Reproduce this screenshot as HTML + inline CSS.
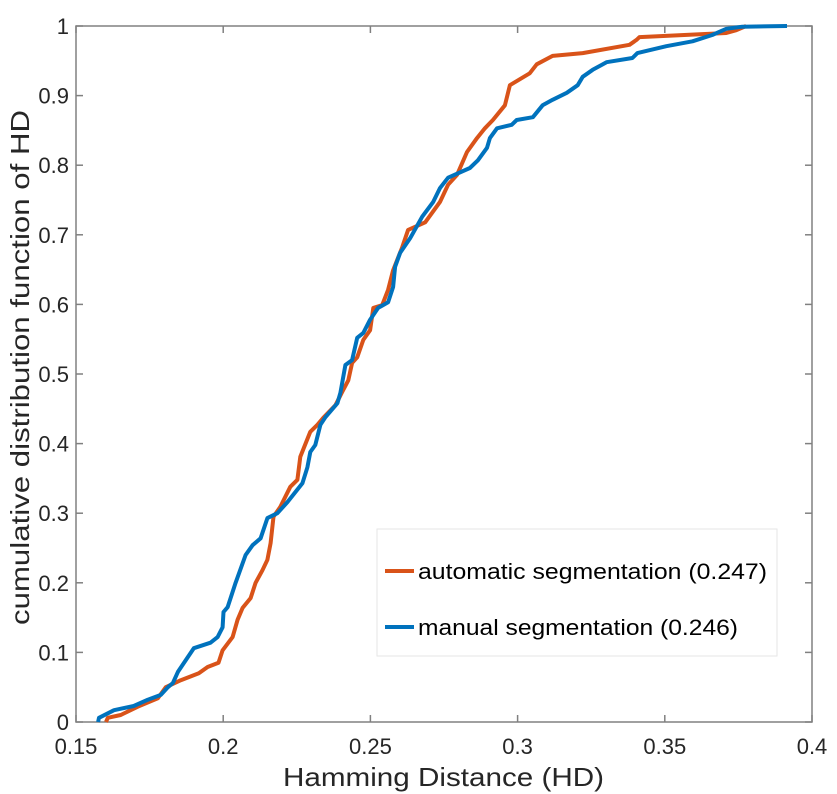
<!DOCTYPE html>
<html><head><meta charset="utf-8"><style>
body{margin:0;background:#fff;}
svg{display:block;font-family:"Liberation Sans",Arial,sans-serif;}
</style></head><body>
<svg id="chart" width="837" height="794" viewBox="0 0 837 794">
<rect x="0" y="0" width="837" height="794" fill="#fff"/>
<g id="axes"></g>
<g id="series"></g>
<text x="283" y="786" font-size="26" fill="#262626" textLength="321" lengthAdjust="spacingAndGlyphs">Hamming Distance (HD)</text>
<text transform="translate(29,625) rotate(-90)" font-size="26" fill="#262626" textLength="515" lengthAdjust="spacingAndGlyphs">cumulative distribution function of HD</text>
<g>
<rect x="377" y="529" width="400" height="127" fill="#fff" stroke="#e6e6e6" stroke-width="1"/>
<line x1="385" y1="571" x2="414" y2="571" stroke="#D95319" stroke-width="4"/>
<text x="418" y="579" font-size="22" fill="#000" textLength="349" lengthAdjust="spacingAndGlyphs">automatic segmentation (0.247)</text>
<line x1="385" y1="627" x2="414" y2="627" stroke="#0072BD" stroke-width="4"/>
<text x="418" y="635" font-size="22" fill="#000" textLength="320" lengthAdjust="spacingAndGlyphs">manual segmentation (0.246)</text>
</g>
</svg>
<script>
const xTicks = [0.15, 0.2, 0.25, 0.3, 0.35, 0.4];
const xTickLabels = ["0.15", "0.2", "0.25", "0.3", "0.35", "0.4"];
const yTicks = [0, 0.1, 0.2, 0.3, 0.4, 0.5, 0.6, 0.7, 0.8, 0.9, 1];
const yTickLabels = ["0", "0.1", "0.2", "0.3", "0.4", "0.5", "0.6", "0.7", "0.8", "0.9", "1"];
const autoX = [0.1602,0.1608,0.1652,0.1710,0.1778,0.1805,0.1856,0.1917,0.1947,0.1984,0.1998,0.2032,0.2049,0.2066,0.2093,0.2110,0.2133,0.2150,0.2161,0.2171,0.2194,0.2228,0.2252,0.2262,0.2296,0.2320,0.2340,0.2381,0.2404,0.2425,0.2438,0.2455,0.2476,0.2499,0.2510,0.2540,0.2560,0.2577,0.2608,0.2628,0.2686,0.2736,0.2764,0.2794,0.2828,0.2862,0.2889,0.2916,0.2957,0.2974,0.3041,0.3065,0.3119,0.3221,0.3380,0.3404,0.3414,0.3709,0.3743,0.3776];
const autoY = [0,0.006,0.010,0.022,0.034,0.050,0.060,0.070,0.079,0.085,0.103,0.122,0.147,0.164,0.178,0.200,0.218,0.233,0.257,0.295,0.309,0.338,0.348,0.381,0.417,0.427,0.437,0.455,0.474,0.491,0.516,0.524,0.549,0.563,0.595,0.599,0.621,0.649,0.682,0.707,0.718,0.747,0.772,0.786,0.819,0.839,0.853,0.865,0.886,0.915,0.932,0.945,0.957,0.961,0.973,0.980,0.984,0.990,0.994,1.0];
const manX = [0.1575,0.1578,0.1629,0.1696,0.1744,0.1788,0.1812,0.1829,0.1846,0.1900,0.1957,0.1981,0.1998,0.2001,0.2015,0.2042,0.2076,0.2100,0.2127,0.2150,0.2184,0.2218,0.2269,0.2286,0.2296,0.2313,0.2330,0.2347,0.2388,0.2398,0.2415,0.2438,0.2455,0.2476,0.2499,0.2526,0.2560,0.2577,0.2584,0.2601,0.2635,0.2676,0.2713,0.2736,0.2764,0.2838,0.2865,0.2896,0.2906,0.2930,0.2980,0.2997,0.3052,0.3085,0.3119,0.3167,0.3204,0.3221,0.3255,0.3285,0.3302,0.3390,0.3407,0.3505,0.3594,0.3661,0.3709,0.3763,0.3915];
const manY = [0,0.006,0.017,0.023,0.032,0.039,0.050,0.056,0.072,0.106,0.114,0.122,0.136,0.158,0.165,0.200,0.240,0.254,0.264,0.293,0.300,0.316,0.343,0.366,0.388,0.398,0.427,0.438,0.458,0.473,0.513,0.520,0.552,0.559,0.578,0.595,0.603,0.625,0.654,0.674,0.695,0.726,0.747,0.767,0.782,0.796,0.807,0.825,0.839,0.853,0.858,0.865,0.869,0.886,0.894,0.904,0.915,0.927,0.937,0.944,0.948,0.954,0.961,0.971,0.978,0.987,0.996,0.999,1.0];

const L=76,R=812,T=26,B=722;
const xs=v=>L+(v-0.15)/(0.25)*(R-L);
const ys=v=>B-v*(B-T);
const NS="http://www.w3.org/2000/svg";
const axes=document.getElementById('axes');
function mk(tag,attrs,parent){const e=document.createElementNS(NS,tag);for(const k in attrs)e.setAttribute(k,attrs[k]);parent.appendChild(e);return e;}
const frame=mk('rect',{x:L,y:T,width:R-L,height:B-T,fill:'none',stroke:'#808080','stroke-width':1.5},axes);


xTicks.forEach((v,i)=>{
  const x=xs(v);
  const t1=mk('line',{x1:x,y1:B,x2:x,y2:B-7,stroke:'#808080','stroke-width':1.5},axes);
  
  
  const t2=mk('line',{x1:x,y1:T,x2:x,y2:T+7,stroke:'#808080','stroke-width':1.5},axes);
  
  
  const tx=mk('text',{x:x,y:B+32,'font-size':22,fill:'#262626','text-anchor':'middle'},axes);
  tx.textContent=xTickLabels[i];
  
  
});
yTicks.forEach((v,i)=>{
  const y=ys(v);
  const t1=mk('line',{x1:L,y1:y,x2:L+7,y2:y,stroke:'#808080','stroke-width':1.5},axes);
  
  
  const t2=mk('line',{x1:R,y1:y,x2:R-7,y2:y,stroke:'#808080','stroke-width':1.5},axes);
  
  
  const tx=mk('text',{x:L-7,y:y+8,'font-size':22,fill:'#262626','text-anchor':'end'},axes);
  tx.textContent=yTickLabels[i];
  
  
});
const series=document.getElementById('series');
function line(X,Y,color,name){
  const d=X.map((v,i)=>(i?'L':'M')+xs(v).toFixed(1)+','+ys(Y[i]).toFixed(1)).join(' ');
  const p=mk('path',{d:d,fill:'none',stroke:color,'stroke-width':4,'stroke-linejoin':'round'},series);
  
  
}
line(autoX,autoY,'#D95319','automatic-segmentation-line');
line(manX,manY,'#0072BD','manual-segmentation-line');
</script>
</body></html>
